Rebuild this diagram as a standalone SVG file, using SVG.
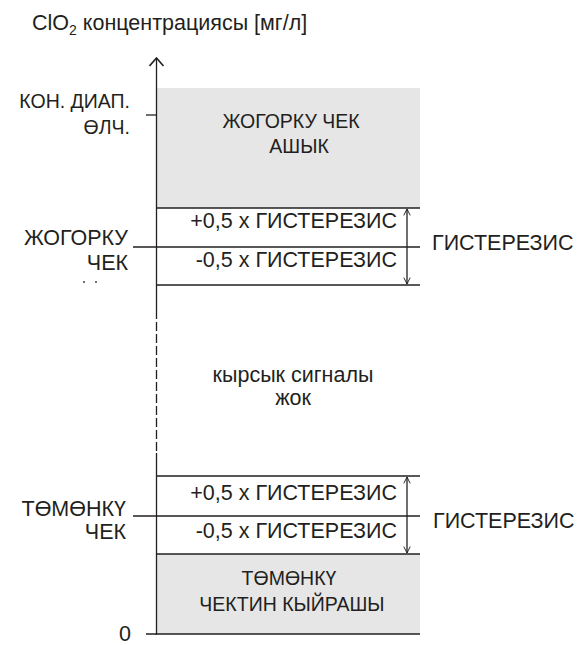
<svg xmlns="http://www.w3.org/2000/svg" width="579" height="645" viewBox="0 0 579 645">
  <style>
    text { font-family: "Liberation Sans", Arial, sans-serif; font-size: 19.5px; fill: #231f20; }
    .big { font-size: 21.5px; }
    .r { text-anchor: end; }
    .m { text-anchor: middle; }
    .ln { stroke: #231f20; stroke-width: 1.3; fill: none; }
    .band { fill: #e6e6e6; }
  </style>
  <defs>
    <!-- open chevron for the hysteresis dimension arrows -->
    <marker id="tip" viewBox="0 0 10 10" refX="9" refY="5" markerWidth="8" markerHeight="8" markerUnits="userSpaceOnUse" orient="auto-start-reverse">
      <path d="M1,1 L9,5 L1,9" stroke="#231f20" stroke-width="1.2" fill="none"/>
    </marker>
    <!-- open chevron for the vertical axis -->
    <marker id="axtip" viewBox="0 0 10 16" refX="9" refY="8" markerWidth="10" markerHeight="16" markerUnits="userSpaceOnUse" orient="auto">
      <path d="M1,1 L9,8 L1,15" stroke="#231f20" stroke-width="1.6" fill="none"/>
    </marker>
  </defs>

  <!-- title -->
  <text id="title" class="big" x="32" y="30">ClO<tspan font-size="14" dy="5">2</tspan><tspan dy="-5"> концентрациясы [мг/л]</tspan></text>

  <!-- shaded bands -->
  <g id="band-high">
    <rect class="band" x="157" y="88" width="263" height="120"/>
    <text class="m" x="291" y="128">ЖОГОРКУ ЧЕК</text>
    <text class="m" x="299" y="153">АШЫК</text>
  </g>
  <g id="band-low">
    <rect class="band" x="157" y="554" width="263" height="80"/>
    <text class="m" x="289" y="585">ТӨМӨНКҮ</text>
    <text class="m" x="292" y="611">ЧЕКТИН КЫЙРАШЫ</text>
  </g>

  <!-- level labels -->
  <g id="label-range">
    <text class="r" x="130" y="108">КОН. ДИАП.</text>
    <text class="r" x="130" y="134">ӨЛЧ.</text>
  </g>
  <g id="label-high">
    <text class="big r" x="128" y="245">ЖОГОРКУ</text>
    <text class="big r" x="128" y="270">ЧЕК</text>
    <circle cx="84" cy="282" r="1" fill="#444"/>
    <circle cx="96" cy="282" r="1" fill="#444"/>
  </g>
  <g id="label-low">
    <text class="big r" x="126" y="516">ТӨМӨНКҮ</text>
    <text class="big r" x="126" y="539">ЧЕК</text>
  </g>
  <g id="label-zero">
    <text class="big r" x="131" y="641">0</text>
  </g>

  <!-- hysteresis rows -->
  <g id="hyst-high">
    <text class="big r" x="397" y="228">+0,5 x ГИСТЕРЕЗИС</text>
    <text class="big r" x="397" y="267">-0,5 x ГИСТЕРЕЗИС</text>
    <text class="big" x="432" y="250">ГИСТЕРЕЗИС</text>
  </g>
  <g id="hyst-low">
    <text class="big r" x="397" y="500">+0,5 x ГИСТЕРЕЗИС</text>
    <text class="big r" x="397" y="538">-0,5 x ГИСТЕРЕЗИС</text>
    <text class="big" x="433" y="528">ГИСТЕРЕЗИС</text>
  </g>

  <g id="no-alarm">
    <text class="big m" x="293" y="382">кырсык сигналы</text>
    <text class="big m" x="293" y="405">жок</text>
  </g>

  <!-- axis, level lines and dimension arrows -->
  <g id="connectors">
    <line class="ln" x1="156.5" y1="310" x2="156.5" y2="58" marker-end="url(#axtip)"/>
    <line class="ln" x1="156.5" y1="310" x2="156.5" y2="452" stroke-dasharray="9 3"/>
    <line class="ln" x1="156.5" y1="453" x2="156.5" y2="635"/>

    <line class="ln" x1="146" y1="115" x2="157" y2="115"/>
    <line class="ln" x1="157" y1="208" x2="420" y2="208"/>
    <line class="ln" x1="133" y1="247" x2="420" y2="247"/>
    <line class="ln" x1="157" y1="285" x2="420" y2="285"/>

    <line class="ln" x1="157" y1="476" x2="420" y2="476"/>
    <line class="ln" x1="133" y1="516" x2="420" y2="516"/>
    <line class="ln" x1="157" y1="554" x2="420" y2="554"/>
    <line class="ln" x1="146" y1="634" x2="420" y2="634"/>

    <line class="ln" x1="407" y1="209" x2="407" y2="284" stroke-width="1" marker-start="url(#tip)" marker-end="url(#tip)"/>
    <line class="ln" x1="407" y1="477" x2="407" y2="553" stroke-width="1" marker-start="url(#tip)" marker-end="url(#tip)"/>
  </g>
</svg>
